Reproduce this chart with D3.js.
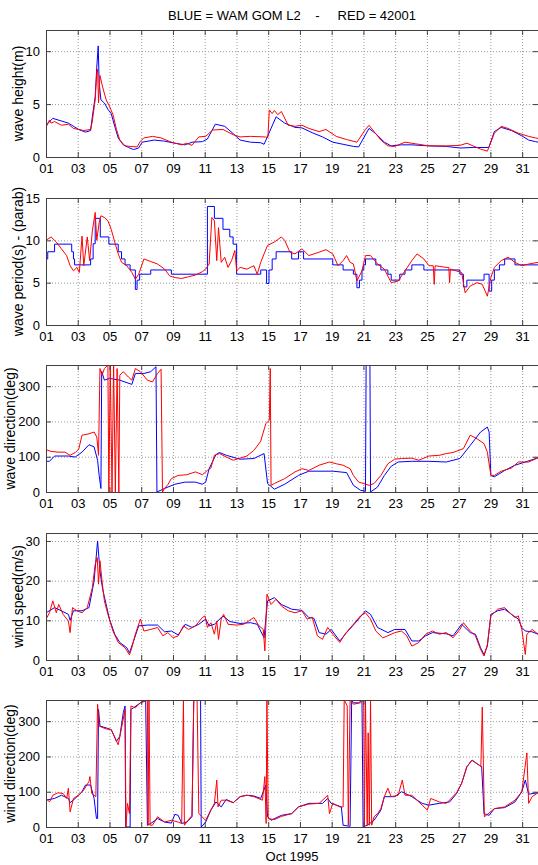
<!DOCTYPE html>
<html>
<head>
<meta charset="utf-8">
<script src="https://cdn.jsdelivr.net/npm/d3@7"></script>
<style>
	body { margin: 0; background: #fff; }
	svg { display: block; font-family: 'Liberation Sans', Arial, sans-serif; }
</style>
</head>
<body>
<div id="chart"></div>
<script>
// each point: [days since 01 Oct 1995 00:00 UTC, value]
// wave height (m)
const hsWam = [[0,3.0],[0.43,3.65],[1.41,3.2],[2.06,2.6],[2.49,2.35],[2.81,2.5],[2.92,3.8],[3.10,5.7],[3.20,8.5],[3.29,10.5],[3.35,7.0],[3.46,5.4],[3.68,5.1],[3.90,4.5],[4.11,4.1],[4.33,2.9],[4.55,1.8],[4.87,1.15],[5.20,0.9],[5.52,0.7],[5.84,0.85],[6.06,1.4],[6.82,1.6],[7.47,1.5],[8.12,1.3],[8.77,1.15],[9.20,1.4],[9.85,1.45],[10.17,1.7],[10.67,3.1],[11.26,2.9],[11.80,2.2],[12.23,1.6],[12.88,1.4],[13.53,1.35],[13.74,1.2],[14.50,3.8],[15.04,3.2],[15.69,2.8],[16.13,2.75],[16.77,2.3],[17.42,1.9],[18.07,1.4],[18.72,1.2],[19.37,1.0],[19.70,0.95],[20.35,2.7],[20.78,2.2],[21.32,1.4],[21.75,1.05],[22.40,1.15],[23.05,1.15],[24.13,1.05],[25.22,1.0],[26.08,0.85],[26.95,0.9],[27.90,0.9],[28.25,2.4],[28.68,2.8],[29.33,2.5],[29.98,2.0],[30.41,1.6],[30.84,1.45],[31,1.4]]
const hsBuoy = [[0,2.8],[0.22,3.5],[0.32,3.2],[0.54,3.35],[0.97,3.0],[1.41,3.1],[1.73,2.7],[2.06,2.6],[2.38,2.5],[2.81,2.6],[2.92,3.4],[3.10,5.4],[3.20,8.0],[3.25,8.3],[3.31,5.1],[3.40,7.7],[3.57,6.6],[3.79,5.4],[4.00,4.8],[4.22,4.0],[4.44,2.6],[4.65,1.6],[4.98,1.05],[5.30,1.0],[5.74,0.95],[5.95,1.5],[6.17,1.8],[6.71,1.95],[7.25,1.8],[7.90,1.4],[8.55,1.15],[8.87,1.3],[9.20,1.1],[9.63,1.9],[10.06,1.95],[10.50,2.55],[11.15,2.6],[11.80,2.1],[12.23,1.9],[12.88,1.95],[13.74,1.9],[13.98,1.85],[14.07,4.45],[14.25,4.1],[14.39,4.4],[14.60,4.0],[14.83,4.3],[15.26,3.0],[15.69,2.9],[16.13,3.0],[16.56,2.7],[17.21,2.4],[17.64,2.6],[18.29,1.95],[18.94,1.65],[19.59,1.4],[20.13,2.6],[20.35,3.0],[20.67,2.4],[21.10,1.6],[21.54,1.05],[21.97,1.0],[22.62,1.4],[23.27,1.25],[24.13,1.05],[25.22,1.05],[26.08,1.1],[26.52,1.3],[27.38,0.75],[27.81,0.55],[28.25,2.25],[28.68,2.9],[29.11,2.7],[29.76,2.25],[30.41,1.95],[30.84,1.8],[31,1.75]]

// wave period (s), model is stepped
const tpWam = [[0,7.8],[0.11,8.65],[0.54,9.55],[1.62,8.65],[1.73,7.8],[1.80,7.1],[2.81,7.8],[2.97,9.6],[3.10,12.6],[3.42,10.4],[3.96,9.55],[4.55,8.65],[4.76,7.8],[4.98,7.1],[5.30,6.5],[5.63,4.2],[5.74,5.3],[5.90,6.0],[6.60,6.5],[7.90,6.0],[10.17,14.0],[10.61,12.6],[11.15,11.3],[11.58,10.4],[11.79,9.55],[12.01,6.0],[13.53,6.5],[13.90,4.9],[14.05,6.5],[14.25,7.8],[14.50,8.65],[15.48,7.8],[15.91,8.65],[16.23,7.8],[18.07,7.1],[18.72,6.5],[19.37,6.0],[19.59,4.4],[19.75,5.3],[19.91,6.5],[20.02,7.1],[20.13,7.8],[20.78,7.1],[21.10,6.5],[21.54,6.0],[21.75,5.3],[22.29,6.0],[22.62,6.5],[23.05,7.1],[23.81,6.5],[26.08,6.0],[26.30,4.5],[26.52,5.3],[27.60,6.0],[27.92,4.0],[28.08,5.3],[28.25,6.5],[28.57,7.1],[28.90,7.8],[29.55,7.1],[31,7.1]]
const tpBuoy = [[0,10.0],[0.32,10.4],[0.65,9.8],[0.97,9.0],[1.30,8.2],[1.52,7.0],[1.73,6.4],[1.95,6.8],[2.10,6.2],[2.27,10.5],[2.38,7.0],[2.60,10.4],[2.75,7.6],[2.92,11.1],[3.10,13.3],[3.20,10.0],[3.35,12.1],[3.46,12.9],[3.68,12.7],[3.90,12.3],[4.11,11.3],[4.33,9.8],[4.55,8.4],[4.76,7.4],[5.09,7.0],[5.41,6.2],[5.63,5.4],[5.84,6.0],[6.17,7.8],[6.60,7.5],[7.03,7.2],[7.47,6.6],[7.79,5.8],[8.12,5.6],[8.55,5.5],[8.98,5.7],[9.42,5.9],[9.85,6.3],[10.06,6.6],[10.28,7.2],[10.45,12.7],[10.61,12.3],[10.76,7.6],[10.87,11.5],[11.04,7.4],[11.26,8.0],[11.47,6.8],[11.69,7.6],[11.90,8.8],[12.01,6.4],[12.23,6.8],[12.66,6.6],[13.10,7.0],[13.31,6.0],[13.53,7.4],[13.74,8.4],[13.96,9.4],[14.39,9.8],[14.83,10.4],[15.04,10.0],[15.37,8.6],[15.69,8.4],[16.13,9.0],[16.56,8.2],[17.21,8.6],[17.64,8.9],[18.07,8.4],[18.40,7.0],[18.72,7.6],[18.94,8.2],[19.16,7.4],[19.37,7.2],[19.59,5.2],[19.91,6.4],[20.13,8.2],[20.45,8.2],[20.89,7.2],[21.32,6.6],[21.75,5.0],[22.19,5.2],[22.62,6.4],[23.05,7.6],[23.38,8.4],[23.81,7.8],[24.13,7.0],[24.40,7.0],[24.46,4.8],[24.52,7.0],[25.22,6.8],[25.38,6.8],[25.43,5.0],[25.48,6.6],[26.19,6.2],[26.41,3.8],[26.73,4.6],[27.16,5.0],[27.49,4.8],[27.81,3.4],[28.03,5.6],[28.25,6.8],[28.68,7.6],[29.11,8.0],[29.55,7.4],[29.98,7.0],[30.41,7.2],[31,7.4]]

// wave direction (deg)
const wdWam = [[0,87],[0.22,87],[0.54,102],[1.41,102],[1.84,99],[2.27,113],[2.71,134],[3.03,128],[3.25,90],[3.35,47],[3.46,10],[3.51,342],[3.68,317],[4.00,322],[4.65,317],[5.41,305],[5.63,336],[6.17,336],[6.60,341],[6.93,355],[6.99,0],[7.47,10],[8.12,22],[8.77,28],[9.42,28],[9.85,22],[10.06,28],[10.28,66],[10.71,106],[10.93,112],[11.36,104],[12.23,93],[13.10,95],[13.74,109],[13.96,24],[14.39,8],[15.04,22],[15.91,47],[16.56,59],[18.07,59],[18.94,55],[19.37,19],[19.81,5],[20.13,2],[20.17,360],[20.41,360],[20.45,0],[20.89,14],[21.32,47],[21.75,73],[22.19,85],[23.05,87],[24.13,87],[25.22,85],[26.08,95],[26.73,132],[27.38,170],[27.81,184],[27.92,170],[28.03,47],[28.25,43],[28.90,61],[29.55,76],[30.20,85],[31,97]]
const wdBuoy = [[0,120],[0.32,115],[0.76,113],[1.19,113],[1.52,104],[1.84,112],[2.06,121],[2.27,161],[2.71,165],[3.03,170],[3.20,156],[3.31,104],[3.40,350],[3.53,331],[3.68,350],[3.90,360],[3.96,0],[4.05,360],[4.16,0],[4.26,360],[4.37,0],[4.48,350],[4.59,0],[4.65,331],[4.87,341],[5.19,326],[5.41,317],[5.63,350],[5.95,341],[6.39,317],[6.71,312],[7.03,336],[7.25,348],[7.34,0],[7.47,10],[7.68,21],[7.90,38],[8.33,47],[8.87,49],[9.42,57],[9.85,49],[10.17,61],[10.39,68],[10.61,104],[10.93,109],[11.36,99],[11.80,90],[12.23,96],[12.66,102],[13.10,118],[13.53,144],[13.85,194],[14.07,203],[14.13,350],[14.18,19],[14.39,24],[15.04,38],[15.69,57],[16.13,66],[16.56,61],[17.21,76],[17.86,85],[18.29,80],[18.72,76],[19.16,66],[19.37,47],[19.70,28],[20.02,24],[20.35,19],[20.67,24],[21.10,47],[21.54,80],[21.97,93],[22.40,95],[23.05,96],[23.49,90],[24.13,102],[24.78,104],[25.22,109],[25.65,112],[26.30,123],[26.73,161],[27.16,151],[27.60,137],[27.81,113],[28.03,47],[28.25,47],[28.68,59],[29.33,68],[29.76,85],[30.41,85],[31,97]]

// wind speed (m/s)
const wsWam = [[0,11.9],[0.54,13.2],[0.97,12.4],[1.41,11.5],[1.52,10.0],[1.73,12.4],[2.27,12.4],[2.71,13.2],[3.03,19.9],[3.25,30.0],[3.40,22.4],[3.57,17.8],[3.79,14.0],[4.00,10.3],[4.33,6.5],[4.65,4.4],[5.09,3.1],[5.26,1.8],[5.52,4.8],[5.84,8.6],[6.39,8.8],[7.03,8.8],[7.47,7.1],[7.90,7.3],[8.33,6.3],[8.77,9.0],[9.20,8.2],[9.63,9.0],[10.06,10.3],[10.28,8.6],[10.61,9.0],[11.15,11.1],[11.58,9.7],[12.23,9.2],[12.88,9.4],[13.31,9.0],[13.74,5.6],[13.96,14.9],[14.39,15.7],[14.83,14.0],[15.48,12.8],[16.13,12.5],[16.56,10.7],[16.88,10.5],[17.21,6.9],[17.64,6.5],[17.97,7.7],[18.51,4.8],[18.94,6.9],[19.59,9.8],[20.13,12.4],[20.45,11.5],[20.89,8.2],[21.54,6.9],[21.97,7.7],[22.62,7.7],[23.05,4.8],[23.49,4.8],[23.92,6.1],[24.35,6.9],[25.22,6.6],[25.65,6.1],[26.19,9.0],[26.73,6.9],[27.06,6.5],[27.38,3.1],[27.60,1.3],[27.81,3.5],[28.03,11.5],[28.46,12.4],[28.90,12.8],[29.33,11.5],[29.76,10.3],[29.98,8.2],[30.20,7.3],[30.63,7.1],[31,6.5]]
const wsBuoy = [[0,10.3],[0.22,11.9],[0.43,14.9],[0.65,11.9],[0.80,14.0],[1.08,11.5],[1.41,9.8],[1.52,6.9],[1.67,13.2],[1.95,12.4],[2.27,11.9],[2.60,13.2],[2.92,18.2],[3.10,24.1],[3.23,25.8],[3.31,19.1],[3.40,25.0],[3.53,19.9],[3.68,14.9],[3.90,11.5],[4.22,7.3],[4.55,4.4],[4.98,3.1],[5.26,1.3],[5.41,3.1],[5.63,6.5],[5.95,10.3],[6.17,7.3],[6.60,7.7],[7.03,8.2],[7.36,6.1],[7.68,6.9],[8.01,5.6],[8.33,6.1],[8.66,8.6],[8.98,7.7],[9.42,8.6],[9.85,10.7],[10.02,11.1],[10.17,8.2],[10.39,9.4],[10.61,6.5],[10.76,9.8],[10.87,5.2],[11.04,10.3],[11.19,11.5],[11.47,9.0],[12.01,8.8],[12.45,9.0],[13.10,10.7],[13.42,8.6],[13.69,7.7],[13.79,2.3],[13.92,16.6],[14.18,14.0],[14.50,15.3],[14.83,13.6],[15.26,12.4],[15.69,11.9],[16.13,12.4],[16.45,10.3],[16.77,10.8],[17.10,6.1],[17.42,5.2],[17.75,8.2],[18.07,6.5],[18.51,4.4],[18.83,6.5],[19.37,9.0],[19.81,11.1],[20.13,11.9],[20.45,10.3],[20.78,7.3],[21.21,5.6],[21.54,6.1],[21.97,6.9],[22.40,7.3],[22.73,6.1],[23.05,3.5],[23.49,4.4],[23.92,6.5],[24.35,7.3],[24.78,6.5],[25.22,6.9],[25.65,5.6],[26.08,7.7],[26.30,9.4],[26.73,7.3],[27.06,6.1],[27.38,2.7],[27.60,1.0],[27.81,3.9],[28.03,11.1],[28.46,12.8],[28.90,13.2],[29.22,11.9],[29.55,10.7],[29.76,11.1],[29.98,7.7],[30.20,1.4],[30.30,6.5],[30.63,7.7],[31,6.5]]

// wind direction (deg)
const wnWam = [[0,76],[0.54,81],[0.97,90],[1.41,81],[1.52,69],[1.84,81],[2.27,100],[2.49,119],[2.81,119],[3.03,81],[3.18,24],[3.25,24],[3.31,333],[3.40,286],[3.79,281],[4.11,276],[4.44,243],[4.65,257],[4.87,324],[4.98,343],[5.02,0],[5.30,0],[5.35,333],[5.52,338],[5.95,352],[6.28,360],[6.39,5],[6.60,10],[7.03,24],[7.47,14],[7.90,11],[8.12,36],[8.33,33],[8.55,10],[8.87,14],[9.20,29],[9.31,360],[9.74,360],[9.78,0],[10.06,14],[10.39,48],[10.71,71],[11.04,57],[11.36,78],[11.80,69],[12.23,86],[12.66,90],[13.10,88],[13.53,81],[13.85,119],[13.96,29],[14.18,19],[14.83,33],[15.48,38],[15.91,57],[16.56,67],[17.42,67],[17.75,81],[17.97,67],[18.29,62],[18.61,57],[18.72,5],[19.16,2],[19.26,360],[19.37,352],[19.70,352],[19.91,360],[19.98,0],[20.24,5],[20.67,19],[21.10,48],[21.32,86],[21.97,86],[22.40,100],[23.05,86],[23.70,67],[24.13,62],[24.78,67],[25.43,71],[25.87,95],[26.19,124],[26.52,171],[26.84,189],[27.27,176],[27.45,171],[27.60,38],[27.92,33],[28.25,52],[28.90,55],[29.55,71],[29.98,100],[30.20,133],[30.41,93],[31,97]]
const wnBuoy = [[0,81],[0.22,71],[0.43,90],[0.76,97],[1.08,95],[1.30,81],[1.41,110],[1.52,43],[1.73,81],[2.06,90],[2.38,105],[2.71,129],[2.77,143],[2.88,95],[3.14,86],[3.25,348],[3.35,286],[3.79,278],[4.11,276],[4.55,233],[4.76,281],[4.98,333],[5.04,0],[5.13,67],[5.26,38],[5.35,343],[5.63,338],[5.95,352],[6.28,357],[6.39,360],[6.43,5],[6.49,360],[6.56,5],[6.71,5],[7.03,29],[7.47,14],[7.90,19],[8.33,14],[8.55,10],[8.66,360],[8.72,5],[8.87,14],[9.20,33],[9.31,360],[9.52,360],[9.63,38],[10.06,19],[10.39,48],[10.61,67],[10.76,133],[10.84,57],[11.04,76],[11.36,76],[11.80,69],[12.23,86],[12.66,90],[13.10,86],[13.64,76],[13.79,143],[13.87,10],[13.92,360],[14.00,24],[14.39,21],[14.83,30],[15.48,38],[15.91,57],[16.56,65],[17.21,67],[17.75,90],[17.86,38],[18.07,67],[18.51,57],[18.72,57],[18.79,360],[18.98,343],[19.05,5],[19.16,360],[19.37,348],[19.81,352],[20.02,360],[20.06,0],[20.13,360],[20.24,5],[20.30,267],[20.37,5],[20.45,360],[20.52,5],[20.67,29],[20.89,38],[21.10,52],[21.32,86],[21.54,110],[21.75,86],[22.19,90],[22.45,133],[22.62,90],[23.05,90],[23.49,71],[24.03,48],[24.24,81],[24.78,71],[25.22,67],[25.87,97],[26.19,124],[26.52,171],[26.84,190],[27.27,176],[27.40,171],[27.49,340],[27.62,29],[28.25,52],[28.90,57],[29.55,76],[29.98,100],[30.30,210],[30.41,67],[30.63,86],[31,97]]

const yTicks1 = [0, 5, 10]
const yTicks2 = [0, 5, 10, 15]
const yTicksDeg = [0, 100, 200, 300]
const yTicks4 = [0, 10, 20, 30]

const panels = [
	{ label: 'wave height(m)', max: 12, ticks: yTicks1, wam: hsWam, buoy: hsBuoy },
	{ label: 'wave period(s) - (parab)', max: 15, ticks: yTicks2, wam: tpWam, buoy: tpBuoy, step: true },
	{ label: 'wave direction(deg)', max: 360, ticks: yTicksDeg, wam: wdWam, buoy: wdBuoy },
	{ label: 'wind speed(m/s)', max: 32, ticks: yTicks4, wam: wsWam, buoy: wsBuoy },
	{ label: 'wind direction(deg)', max: 360, ticks: yTicksDeg, wam: wnWam, buoy: wnBuoy }
]

const width = 538
const height = 865
const left = 46
const right = 538
const plotH = 127
const axisColor = '#404040'

const start = Date.UTC(1995, 9, 1)
const toDate = (t) => new Date(start + t * 864e5)

const svg = d3.select('#chart').append('svg').attr('width', width).attr('height', height)

const x = d3.scaleUtc().domain([toDate(0), toDate(31)]).range([left, right])
const xTicks = d3.utcDay.every(2).range(toDate(0), toDate(31))

svg.append('text')
	.attr('x', (left + right) / 2)
	.attr('y', 20)
	.attr('text-anchor', 'middle')
	.attr('font-size', '13px')
	.style('white-space', 'pre')
	.text('BLUE = WAM GOM L2    -     RED = 42001')

panels.forEach(function (p, i) {
	const top = 30 + Math.round(i * 167.5)
	const bottom = top + plotH
	const y = d3.scaleLinear().domain([0, p.max]).range([bottom, top])
	const g = svg.append('g')

	const clipId = 'clip' + i
	g.append('clipPath').attr('id', clipId)
		.append('rect').attr('x', left).attr('y', top).attr('width', right - left).attr('height', plotH + 1)

	// dotted grid
	const gx = g.append('g').attr('transform', `translate(0,${bottom})`)
		.call(d3.axisBottom(x).tickValues(xTicks).tickSize(-plotH).tickFormat(''))
	const gy = g.append('g').attr('transform', `translate(${left},0)`)
		.call(d3.axisLeft(y).tickValues(p.ticks).tickSize(-(right - left)).tickFormat(''))
	;[gx, gy].forEach((a) => {
		a.select('.domain').remove()
		a.selectAll('line').attr('stroke', '#9a9a9a').attr('stroke-dasharray', '1,2')
	})

	// data lines
	const line = d3.line()
		.x((d) => x(toDate(d[0])))
		.y((d) => y(d[1]))
	const lines = g.append('g').attr('clip-path', `url(#${clipId})`)
	lines.append('path')
		.attr('fill', 'none')
		.attr('stroke', '#0000ff')
		.attr('stroke-width', 1)
		.attr('d', line.curve(p.step ? d3.curveStepAfter : d3.curveLinear)(p.wam))
	lines.append('path')
		.attr('fill', 'none')
		.attr('stroke', '#ff0000')
		.attr('stroke-width', 1)
		.attr('d', line.curve(d3.curveLinear)(p.buoy))

	// box and inward ticks
	g.append('rect')
		.attr('x', left + 0.5).attr('y', top + 0.5)
		.attr('width', right - left).attr('height', plotH)
		.attr('fill', 'none').attr('stroke', axisColor)

	const bottomAxis = g.append('g').attr('transform', `translate(0,${bottom})`)
		.call(d3.axisBottom(x).tickValues(xTicks).tickSize(-5).tickPadding(7).tickFormat(d3.utcFormat('%d')))
	const topAxis = g.append('g').attr('transform', `translate(0,${top})`)
		.call(d3.axisTop(x).tickValues(xTicks).tickSize(-5).tickFormat(''))
	const leftAxis = g.append('g').attr('transform', `translate(${left},0)`)
		.call(d3.axisLeft(y).tickValues(p.ticks).tickSize(-5).tickPadding(6))
	const rightAxis = g.append('g').attr('transform', `translate(${right},0)`)
		.call(d3.axisRight(y).tickValues(p.ticks).tickSize(-5).tickFormat(''))
	;[bottomAxis, topAxis, leftAxis, rightAxis].forEach((a) => {
		a.select('.domain').remove()
		a.selectAll('line').attr('stroke', axisColor)
		a.selectAll('text').attr('fill', '#000').attr('font-size', '13px').attr('font-family', null)
	})

	// y label sits just left of the widest tick label
	const widest = d3.max(p.ticks, (t) => String(t).length)
	g.append('text')
		.attr('transform', `translate(${40 - 8.5 * widest},${(top + bottom) / 2}) rotate(-90)`)
		.attr('text-anchor', 'middle')
		.attr('font-size', '14px')
		.text(p.label)
})

svg.append('text')
	.attr('x', (left + right) / 2)
	.attr('y', 861)
	.attr('text-anchor', 'middle')
	.attr('font-size', '13px')
	.text('Oct 1995')
</script>
</body>
</html>
